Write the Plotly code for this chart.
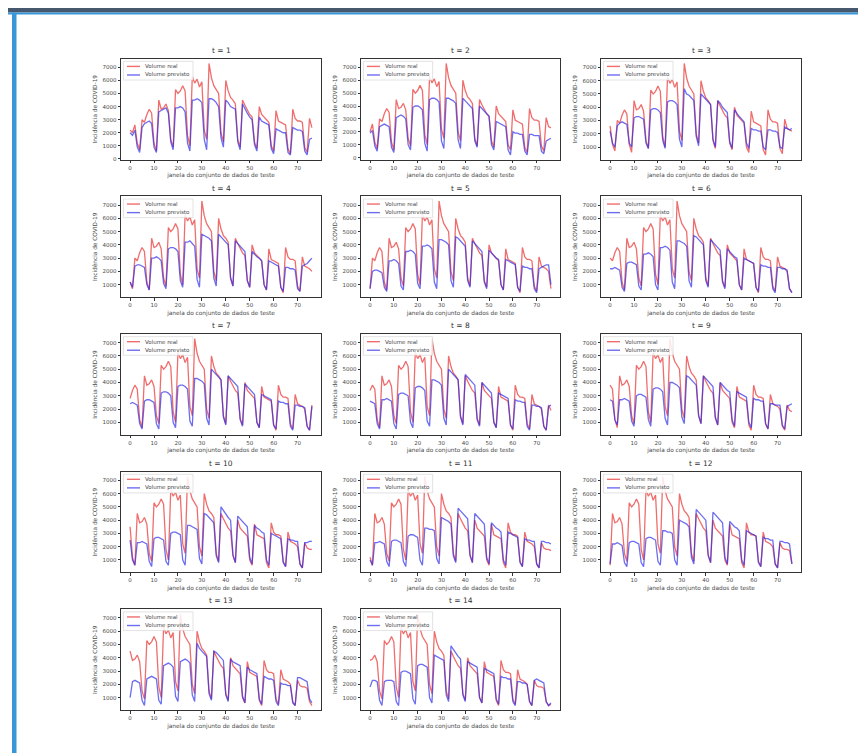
import plotly.graph_objects as go

W, H = 866, 753

# ---------------- data ----------------
WINDOW = list(range(77))  # janela do conjunto de dados de teste

# real volume (base series); panel t shows REAL_BASE[t-1 : t-1+77]
REAL_BASE = [
    2200, 2000, 2600, 1200, 700,
    3000, 2800, 3400, 3800, 3500, 1200, 600,
    4500, 3800, 3900, 4200, 3700, 1500, 900,
    5300, 5000, 5200, 5600, 5200, 1800, 1000,
    6300, 5800, 6100, 5500, 5900, 2200, 1500,
    7300, 6200, 5600, 5300, 5000, 2000, 1300,
    6000, 5200, 4700, 4500, 4200, 1500, 900,
    4500, 4100, 3700, 3400, 3200, 1300, 800,
    4000, 3400, 3200, 3000, 2800, 1000, 600,
    3700, 2900, 2800, 2700, 2600, 800, 400,
    3800, 3100, 2900, 2900, 2800, 900, 500,
    3100, 2400, 2300, 2200, 2000, 700, 400,
    2300, 1900, 1800, 1800, 1700, 700, 400, 500,
]

PRED_T1 = [2000,1800,2200,900,500,
 2400,2700,2800,2900,2700,900,500,
 3600,3700,3800,3900,3500,1300,700,
 3900,3900,4000,3900,3600,1200,600,
 4500,4500,4600,4500,4300,1500,700,
 4600,4600,4500,4300,4000,1600,900,
 4500,4300,4000,3900,3800,1300,700,
 4200,3800,3500,3200,3000,1100,600,
 3200,2900,2800,2700,2600,800,400,
 2300,2200,2100,2000,2000,500,300,
 2400,2300,2200,2200,2100,600,300,
 1500,1600]
PRED_T2 = [1900,2100,900,500,
 2400,2500,2600,2500,2400,800,400,
 3100,3200,3300,3200,3000,1000,600,
 3900,4000,4000,3900,3700,1100,500,
 4500,4600,4600,4500,4300,1300,700,
 4600,4600,4500,4400,4200,1400,700,
 4600,4400,4200,4000,3800,1300,800,
 4000,3800,3600,3400,3200,1000,600,
 2800,2700,2600,2500,2400,600,200,
 2000,1900,1900,1800,1800,500,200,
 1800,1800,1700,1700,1700,500,300,
 1300,1400,1500]
PRED_T3 = [2200,1300,1000,
 2600,2800,2900,2800,2700,1300,1000,
 3200,3300,3300,3200,3100,1300,900,
 3800,3900,3900,3800,3600,1500,900,
 4400,4500,4500,4400,4200,1600,1000,
 5400,5000,4900,4700,4500,1800,1100,
 5000,4800,4600,4400,4200,1600,1000,
 4500,4300,4000,3800,3600,1400,900,
 3800,3500,3300,3100,2900,1300,900,
 2400,2300,2300,2200,2200,1000,800,
 2300,2300,2200,2200,2100,1000,900,
 2500,2400,2300,2400]
PRED_T4 = [1200,800,
 2400,2500,2500,2400,2300,1000,600,
 3000,3000,3100,3000,2800,1100,700,
 3700,3800,3800,3700,3500,1300,800,
 4200,4200,4300,4100,3900,1400,800,
 4800,4700,4600,4500,4300,1500,900,
 4800,4600,4400,4200,4000,1500,900,
 4300,4100,3900,3700,3500,1300,800,
 3500,3300,3100,3000,2800,1000,600,
 2800,2700,2600,2500,2400,800,500,
 2300,2300,2200,2200,2100,700,500,
 2400,2500,2600,2800,3000]
PRED_T5 = [700,
 2000,2100,2100,2000,1900,800,500,
 2800,2800,2900,2800,2600,900,600,
 3500,3500,3600,3500,3300,1100,700,
 3900,3900,4000,3900,3700,1200,700,
 4400,4400,4300,4200,4000,1300,800,
 4600,4500,4300,4100,3900,1300,800,
 4300,4100,3900,3700,3500,1200,700,
 3600,3400,3200,3000,2900,1000,600,
 2900,2800,2700,2600,2500,800,500,
 2400,2300,2300,2200,2200,700,400,
 2200,2300,2400,2500,2500,1000]
PRED_T6 = [2200,2200,2300,2200,2100,800,500,
 2600,2700,2700,2600,2500,900,600,
 3300,3300,3400,3300,3100,1000,600,
 3800,3800,3900,3800,3600,1200,700,
 4300,4300,4200,4100,3900,1300,800,
 4700,4600,4400,4200,4000,1300,800,
 4400,4200,4000,3800,3600,1200,700,
 3700,3500,3300,3100,3000,1000,600,
 3000,2900,2800,2700,2600,800,500,
 2500,2400,2400,2300,2300,700,400,
 2300,2300,2200,2200,2100,700,400]
PRED_T7 = [2400,2500,2400,2300,900,500,
 2600,2700,2700,2600,2500,900,500,
 3200,3300,3300,3200,3000,1000,600,
 3700,3800,3800,3700,3500,1100,700,
 4300,4300,4200,4100,3900,1300,800,
 5000,4800,4600,4400,4200,1400,800,
 4500,4300,4100,3900,3700,1200,700,
 3900,3700,3500,3300,3100,1000,600,
 3100,3000,2900,2800,2700,800,500,
 2600,2500,2500,2400,2400,700,400,
 2300,2300,2200,2200,2100,700,400,
 2200]
PRED_T8 = [2600,2500,2400,900,500,
 2700,2700,2800,2700,2600,900,500,
 3100,3200,3200,3100,3000,1000,600,
 3600,3700,3700,3600,3400,1100,700,
 4200,4200,4100,4000,3800,1300,800,
 5000,4800,4600,4400,4200,1400,800,
 4600,4400,4200,4000,3800,1200,700,
 4000,3800,3600,3400,3200,1000,600,
 3200,3100,3000,2900,2800,800,500,
 2700,2600,2600,2500,2500,700,400,
 2300,2300,2200,2200,2100,700,400,
 2200,2300]
PRED_T9 = [2700,2600,1200,800,
 2700,2700,2800,2700,2600,1100,700,
 3000,3100,3100,3000,2900,1200,700,
 3500,3600,3600,3500,3300,1300,800,
 4000,4000,3900,3800,3600,1400,900,
 4500,4400,4200,4000,3800,1500,900,
 4500,4300,4100,3900,3700,1400,800,
 4000,3800,3600,3400,3300,1200,700,
 3300,3200,3100,3000,2900,1000,600,
 2800,2700,2700,2600,2600,900,500,
 2400,2400,2300,2300,2300,800,500,
 2200,2300,2400]
PRED_T10 = [2500,1000,600,
 2300,2300,2400,2300,2200,900,500,
 2600,2700,2700,2600,2500,900,600,
 3000,3100,3100,3000,2900,1000,600,
 3600,3600,3500,3400,3300,1100,700,
 4500,4400,4200,4000,3800,1300,800,
 5000,4700,4400,4200,4000,1400,800,
 4300,4100,3900,3700,3500,1200,700,
 3600,3400,3300,3100,3000,1000,600,
 3000,2900,2800,2700,2600,800,500,
 2600,2500,2500,2400,2400,700,400,
 2300,2300,2400,2400]
PRED_T11 = [1000,600,
 2300,2300,2400,2300,2200,900,500,
 2400,2500,2500,2400,2300,900,500,
 2800,2900,2900,2800,2700,1000,600,
 3400,3400,3300,3300,3200,1100,700,
 4200,4100,4000,3900,3700,1300,800,
 4900,4700,4500,4300,4100,1400,800,
 4500,4300,4100,3900,3700,1200,700,
 3800,3600,3400,3300,3100,1000,600,
 3100,3000,2900,2800,2700,800,500,
 2600,2500,2500,2400,2400,700,400,
 2400,2400,2300,2300,2200]
PRED_T12 = [700,
 2200,2200,2300,2200,2100,800,500,
 2300,2400,2400,2300,2200,800,500,
 2600,2700,2700,2600,2500,900,600,
 3200,3200,3100,3100,3000,1000,600,
 4000,3900,3800,3700,3500,1200,700,
 4800,4600,4400,4200,4000,1400,800,
 4600,4400,4200,4000,3800,1200,700,
 3900,3700,3500,3400,3200,1000,600,
 3200,3100,3000,2900,2800,800,500,
 2700,2600,2600,2500,2500,700,400,
 2400,2400,2300,2300,2200,700]
PRED_T13 = [1000,2200,2300,2200,2100,800,400,
 2400,2500,2600,2500,2400,800,500,
 3400,3500,3600,3500,3300,1100,700,
 3700,3800,3900,3800,3600,1200,700,
 5100,4700,4500,4300,4100,1300,800,
 4500,4400,4200,4000,3800,1200,700,
 3900,3700,3600,3500,3400,1100,600,
 3300,3100,3000,2900,2800,900,500,
 2600,2500,2400,2400,2300,700,400,
 2100,2000,2000,1900,1900,600,400,
 2500,2500,2400,2300,2200,900,600]
PRED_T14 = [1800,2300,2300,2200,800,400,
 2200,2300,2300,2300,2200,700,400,
 2900,3000,3000,2900,2800,900,500,
 3400,3500,3500,3400,3300,1000,600,
 4200,4100,4000,3900,3800,1200,700,
 4900,4600,4300,4100,3900,1200,700,
 3700,3600,3500,3400,3300,1000,600,
 3200,3100,3000,2900,2800,900,500,
 2600,2500,2500,2400,2400,700,400,
 2200,2200,2100,2100,2000,700,400,
 2300,2400,2300,2200,2100,700,400,
 600]

PREDICTIONS = [PRED_T1, PRED_T2, PRED_T3, PRED_T4, PRED_T5, PRED_T6, PRED_T7,
               PRED_T8, PRED_T9, PRED_T10, PRED_T11, PRED_T12, PRED_T13, PRED_T14]
HORIZONS = list(range(1, 15))
TITLES = ["t = %d" % t for t in HORIZONS]
LABEL_REAL = "Volume real"
LABEL_PRED = "Volume previsto"
X_LABEL = "janela do conjunto de dados de teste"
Y_LABEL = "Incidência de COVID-19"

# ---------------- layout geometry (pixels) ----------------
COL_X = [(113, 313), (353, 552), (593, 793)]
ROW_TOP = [51, 189, 327, 465, 603]
PLOT_H = 101

RED = "rgba(232,40,40,0.68)"
BLUE = "rgba(40,40,232,0.68)"
TXT = "#4a4a4a"
FONT = "DejaVu Sans"

fig = go.Figure()
layout = dict(
    width=W, height=H, margin=dict(l=0, r=0, t=0, b=0),
    paper_bgcolor="white", plot_bgcolor="white", showlegend=False,
    font=dict(family=FONT, color=TXT),
)
shapes = []
annotations = []

# page decoration
shapes.append(dict(type="rect", xref="paper", yref="paper", x0=0, x1=1,
                   y0=1 - 4.5 / H, y1=1, fillcolor="#45586e", line_width=0, layer="above"))
shapes.append(dict(type="rect", xref="paper", yref="paper", x0=0, x1=1,
                   y0=1 - 6.5 / H, y1=1 - 4.5 / H, fillcolor="#3996d8", line_width=0, layer="above"))
shapes.append(dict(type="rect", xref="paper", yref="paper", x0=4 / W, x1=8.5 / W,
                   y0=0, y1=1 - 4.5 / H, fillcolor="#3996d8", line_width=0, layer="above"))

for i, t in enumerate(HORIZONS):
    r, c = divmod(i, 3)
    idx = i + 1
    xa = "xaxis" if idx == 1 else "xaxis%d" % idx
    ya = "yaxis" if idx == 1 else "yaxis%d" % idx
    xr = "x" if idx == 1 else "x%d" % idx
    yr = "y" if idx == 1 else "y%d" % idx

    real = REAL_BASE[t - 1:t - 1 + len(WINDOW)]
    pred = PREDICTIONS[i]

    fig.add_trace(go.Scatter(x=WINDOW, y=real, mode="lines", name=LABEL_REAL,
                             line=dict(color=RED, width=1.3), xaxis=xr, yaxis=yr))
    fig.add_trace(go.Scatter(x=WINDOW, y=pred, mode="lines", name=LABEL_PRED,
                             line=dict(color=BLUE, width=1.3), xaxis=xr, yaxis=yr))

    lo = min(min(real), min(pred))
    hi = max(max(real), max(pred))
    pad = (hi - lo) * 0.05
    xpad = (WINDOW[-1] - WINDOW[0]) * 0.05

    x0p, x1p = COL_X[c]
    top = ROW_TOP[r]
    bot = top + PLOT_H
    layout[xa] = dict(
        domain=[x0p / W, x1p / W], anchor=yr,
        range=[WINDOW[0] - xpad, WINDOW[-1] + xpad],
        tickvals=[0, 10, 20, 30, 40, 50, 60, 70],
        showline=True, mirror=True, linecolor="#333333", linewidth=0.8,
        ticks="outside", ticklen=2.5, tickwidth=0.6, tickcolor="#333333",
        showgrid=False, zeroline=False,
        tickfont=dict(size=5.5, color=TXT, family=FONT),
        title=dict(text=X_LABEL, font=dict(size=5.8, color=TXT, family=FONT), standoff=3),
    )
    layout[ya] = dict(
        domain=[1 - bot / H, 1 - top / H], anchor=xr,
        range=[lo - pad, hi + pad], dtick=1000, tickformat="d",
        showline=True, mirror=True, linecolor="#333333", linewidth=0.8,
        ticks="outside", ticklen=2.5, tickwidth=0.6, tickcolor="#333333",
        showgrid=False, zeroline=False,
        tickfont=dict(size=5.5, color=TXT, family=FONT),
        title=dict(text=Y_LABEL, font=dict(size=5.8, color=TXT, family=FONT), standoff=4),
    )
    # title
    annotations.append(dict(text=TITLES[i], xref="paper", yref="paper",
                            x=(x0p + x1p) / 2 / W, y=1 - (top - 2) / H,
                            xanchor="center", yanchor="bottom", showarrow=False,
                            font=dict(size=7.5, color="#333333", family=FONT)))
    # legend box
    xd = xr + " domain"
    yd = yr + " domain"
    shapes.append(dict(type="rect", xref=xd, yref=yd, x0=0.012, x1=0.36,
                       y0=0.79, y1=0.975, fillcolor="rgba(255,255,255,0.85)",
                       line=dict(color="#d0d0d0", width=0.6), layer="above"))
    for k, (col, lab, yy) in enumerate([(RED, LABEL_REAL, 0.925), (BLUE, LABEL_PRED, 0.84)]):
        shapes.append(dict(type="line", xref=xd, yref=yd, x0=0.03, x1=0.095,
                           y0=yy, y1=yy, line=dict(color=col, width=1.4), layer="above"))
        annotations.append(dict(text=lab, xref=xd, yref=yd, x=0.11, y=yy,
                                xanchor="left", yanchor="middle", showarrow=False,
                                font=dict(size=5.5, color=TXT, family=FONT)))

layout["shapes"] = shapes
layout["annotations"] = annotations
fig.update_layout(**layout)
fig.write_html("out.html")
